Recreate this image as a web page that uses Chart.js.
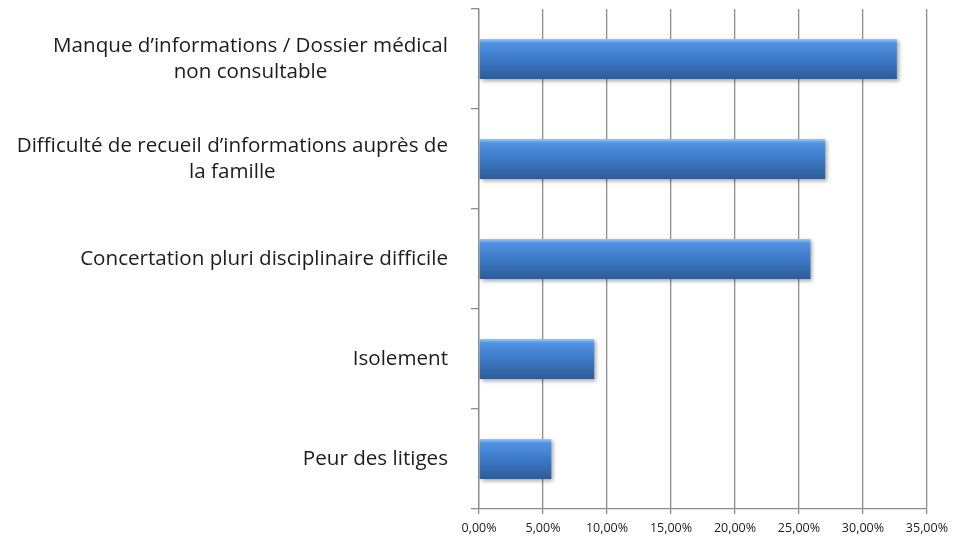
<!DOCTYPE html>
<html>
<head>
<meta charset="utf-8">
<script src="https://cdn.jsdelivr.net/npm/chart.js@4/dist/chart.umd.min.js"></script>
<style>
  html, body { margin: 0; padding: 0; background: #fff; }
  #wrap { width: 955px; height: 538px; }
</style>
</head>
<body>
<div id="wrap"><canvas id="chart" width="955" height="538"></canvas></div>
<script>
const categories = [
  ["Manque d’informations / Dossier médical", "non consultable"],
  ["Difficulté de recueil d’informations auprès de", "la famille"],
  ["Concertation pluri disciplinaire difficile"],
  ["Isolement"],
  ["Peur des litiges"]
];
const values = [32.65, 27.05, 25.9, 9.0, 5.65];
const tickMin = 0;
const tickMax = 35;
const tickStep = 5;

const labelFont = "20.6px 'Open Sans'";

function barFill(ctx) {
  const chart = ctx.chart;
  const y = chart.scales.y;
  if (!y || ctx.dataIndex === undefined) return "#3b78c8";
  const center = y.getPixelForValue(ctx.dataIndex);
  const half = y.getPixelForValue(1) - y.getPixelForValue(0);
  const top = center - half * 0.2;
  const bottom = center + half * 0.2;
  if (!isFinite(top) || !isFinite(bottom) || top === bottom) return "#3b78c8";
  const g = chart.ctx.createLinearGradient(0, top, 0, bottom);
  g.addColorStop(0, "#95c8f8");
  g.addColorStop(0.1, "#5293e2");
  g.addColorStop(0.45, "#3f7dcc");
  g.addColorStop(1, "#2d5c97");
  return g;
}

// draws category labels: block right aligned, lines centered within the block
const labelPlugin = {
  id: "labels",
  afterDraw(chart) {
    const { ctx, scales: { y } } = chart;
    ctx.save();
    ctx.font = labelFont;
    ctx.fillStyle = "#1c1c1c";
    ctx.textAlign = "center";
    ctx.textBaseline = "middle";
    const lineH = 26;
    const right = 448;
    categories.forEach((lines, i) => {
      const w = Math.max(...lines.map(l => ctx.measureText(l).width));
      const cx = right - w / 2;
      const cy = y.getPixelForValue(i);
      const start = cy - (lines.length - 1) * lineH / 2;
      lines.forEach((l, k) => ctx.fillText(l, cx, start + k * lineH));
    });
    ctx.restore();
  }
};

const shadowPlugin = {
  id: "barShadow",
  beforeDatasetDraw(chart) {
    const ctx = chart.ctx;
    ctx.save();
    ctx.shadowColor = "rgba(0,0,0,0.35)";
    ctx.shadowBlur = 4;
    ctx.shadowOffsetX = 2;
    ctx.shadowOffsetY = 2;
  },
  afterDatasetDraw(chart) {
    chart.ctx.restore();
  }
};

new Chart(document.getElementById("chart"), {
  type: "bar",
  data: {
    labels: categories,
    datasets: [{
      data: values,
      backgroundColor: barFill,
      borderWidth: 0,
      categoryPercentage: 1,
      barPercentage: 0.4
    }]
  },
  plugins: [labelPlugin, shadowPlugin],
  options: {
    indexAxis: "y",
    responsive: false,
    animation: false,
    layout: { padding: { top: 9, right: 28, left: 0, bottom: 0 } },
    plugins: {
      legend: { display: false },
      tooltip: { enabled: false }
    },
    scales: {
      x: {
        min: tickMin,
        max: tickMax,
        afterFit(scale) { scale.height = 29; },
        ticks: {
          stepSize: tickStep,
          color: "#222",
          font: { family: "'Open Sans'", size: 12.5 },
          padding: 7,
          maxRotation: 0,
          callback: v => v.toFixed(2).replace(".", ",") + "%"
        },
        grid: { color: "#8c8c8c", lineWidth: 1.3, tickLength: 5 },
        border: { color: "#8c8c8c", width: 1.3 }
      },
      y: {
        afterFit(scale) { scale.width = 479; },
        ticks: { display: false },
        grid: { offset: true, drawOnChartArea: false, color: "#8c8c8c", lineWidth: 1.3, tickLength: 8 },
        border: { color: "#8c8c8c", width: 1.3 }
      }
    }
  }
});
</script>
</body>
</html>
